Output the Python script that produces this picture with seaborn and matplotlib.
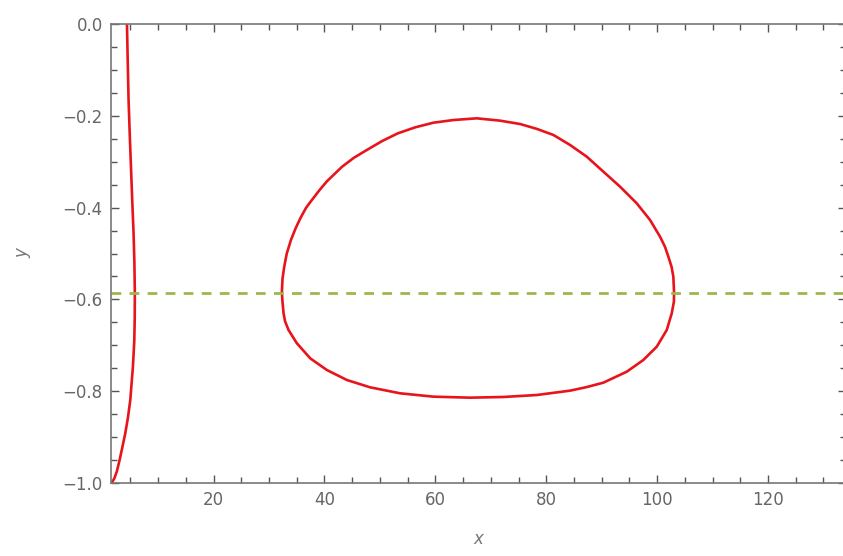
import matplotlib
matplotlib.use("Agg")
import matplotlib.pyplot as plt
from matplotlib.ticker import MultipleLocator
import seaborn as sns
import pandas as pd

# Left branch of the contour (top to bottom)
branch_x = [4.38, 4.52, 4.67, 4.88, 5.10, 5.33, 5.57, 5.72, 5.80, 5.78, 5.70, 5.45,
            5.20, 4.98, 4.55, 4.07, 3.55, 3.05, 2.55, 2.10, 1.60]
branch_y = [0.0, -0.083, -0.166, -0.240, -0.311, -0.385, -0.456, -0.520, -0.587, -0.640,
            -0.690, -0.747, -0.785, -0.819, -0.858, -0.892, -0.922, -0.950, -0.975, -0.990, -1.0]

# Closed loop of the contour (clockwise from the leftmost point)
loop_x = [32.32, 32.43, 32.74, 33.20, 33.95, 34.80, 35.70, 36.70, 37.73, 39.10, 40.43,
          43.19, 45.30, 47.64, 50.40, 53.23, 56.40, 59.65, 63.26, 67.47,
          71.68, 75.28, 78.30, 81.29, 84.30, 87.31, 90.30, 93.31, 96.32, 98.72, 100.52,
          101.40, 102.02, 102.60, 102.92, 103.05,
          103.02, 102.63, 101.73, 99.93, 97.51, 94.52, 90.30, 87.30, 84.30, 78.29, 72.27,
          66.27, 59.65, 53.65, 48.24, 44.04, 40.43, 37.43, 35.03, 33.52, 32.90, 32.62,
          32.45, 32.32]
loop_y = [-0.5853, -0.555, -0.529, -0.500, -0.4706, -0.445, -0.4220, -0.4000, -0.3834,
          -0.3620, -0.3428, -0.3108, -0.2915, -0.2745, -0.2550, -0.2382, -0.2250, -0.2150,
          -0.2092, -0.2055,
          -0.2106, -0.2179, -0.2285, -0.2418, -0.2636, -0.2891, -0.3217, -0.3544, -0.3907,
          -0.4270, -0.4634, -0.4850, -0.5069, -0.5290, -0.5505, -0.5853,
          -0.6050, -0.6303, -0.6667, -0.7030, -0.7320, -0.7575, -0.7814, -0.7910, -0.7988,
          -0.8083, -0.8126, -0.8141, -0.8119, -0.8046, -0.7916, -0.7756, -0.7538, -0.7284,
          -0.6957, -0.6667, -0.6480, -0.6303, -0.6080, -0.5853]

level_y = -0.585

x_limits = (1.5, 134.0)
y_limits = (-1.0, 0.0)
x_ticks = [20, 40, 60, 80, 100, 120]
y_ticks = [-1.0, -0.8, -0.6, -0.4, -0.2, 0.0]

sns.set_style("ticks")
plt.rcParams["font.family"] = ["DejaVu Sans"]

fig = plt.figure(figsize=(8.43, 5.56), dpi=100)
ax = fig.add_axes([111 / 843, 73 / 556, 0.8715, 459 / 556])

branch = pd.DataFrame({"x": branch_x, "y": branch_y})
loop = pd.DataFrame({"x": loop_x, "y": loop_y})

sns.lineplot(data=branch, x="x", y="y", sort=False, estimator=None,
             color="#e8141c", linewidth=1.9, ax=ax)
sns.lineplot(data=loop, x="x", y="y", sort=False, estimator=None,
             color="#e8141c", linewidth=1.9, ax=ax)
for line in ax.get_lines():
    line.set_solid_joinstyle("round")
ax.axhline(level_y, color="#9cb84c", linewidth=2.0, dashes=(3.5, 3.0))

ax.set_xlim(*x_limits)
ax.set_ylim(*y_limits)
ax.set_xticks(x_ticks)
ax.set_yticks(y_ticks)
ax.set_yticklabels([f"{v:.1f}".replace("-", "\u2212") for v in y_ticks])
ax.xaxis.set_minor_locator(MultipleLocator(5))
ax.yaxis.set_minor_locator(MultipleLocator(0.05))

ax.tick_params(which="both", direction="in", top=True, right=True,
               color="#555555", width=1.0, labelsize=12, labelcolor="#666666", pad=6)
ax.tick_params(which="major", length=6)
ax.tick_params(which="minor", length=4)
for s in ax.spines.values():
    s.set_color("#777777")
    s.set_linewidth(1.2)

ax.set_xlabel("x", fontsize=12, color="#777777", style="italic", labelpad=15)
ax.set_ylabel("y", fontsize=12, color="#777777", style="italic", labelpad=22)

fig.savefig("out.png", dpi=100)
